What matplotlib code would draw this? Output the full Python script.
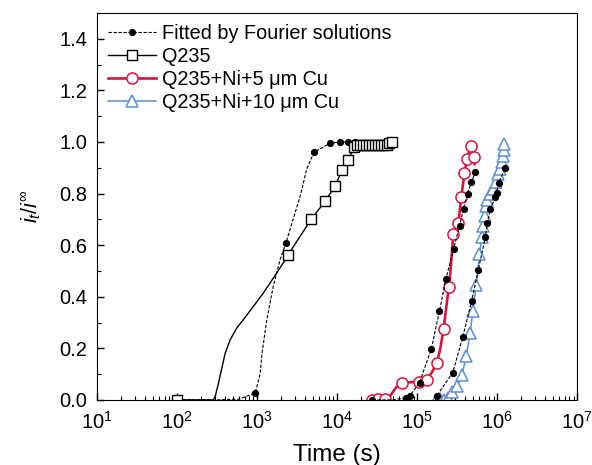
import matplotlib.pyplot as plt
from matplotlib.ticker import LogLocator, MultipleLocator, NullFormatter

plt.rcParams['font.family'] = ['Liberation Sans', 'DejaVu Sans']
plt.rcParams['mathtext.fontset'] = 'custom'
plt.rcParams['mathtext.it'] = 'Liberation Sans:italic'
plt.rcParams['mathtext.rm'] = 'Liberation Sans'

# Q235 measured
q235_t = [100, 200, 282, 299, 329, 362, 398, 460, 557, 673, 900, 1200, 1600, 2130, 2420,
          4730, 7080, 9440, 11500, 13700, 16300, 17800, 19500, 21000, 23000, 25000, 27000,
          29500, 32000, 35000, 38000, 42000, 45000, 49000]
q235_y = [0.0, 0.0, 0.0, 0.013, 0.065, 0.123, 0.18, 0.233, 0.279, 0.311, 0.363, 0.415, 0.473,
          0.532, 0.561,
          0.70, 0.77, 0.83, 0.89, 0.93, 0.98, 0.99, 0.99, 0.99, 0.99, 0.99, 0.99,
          0.99, 0.99, 0.99, 0.99, 0.99, 0.995, 1.0]
q235_marks = [0] + list(range(14, len(q235_t)))

# Q235 Fourier fit
fit1_t = [100, 300, 600, 945, 990, 1090, 1150, 1320, 1590, 1940, 2300, 3450, 4170, 5130,
          8130, 11000, 13800, 16600, 20000, 25000, 30000, 40000]
fit1_y = [0.0, 0.0, 0.003, 0.027, 0.05, 0.10, 0.18, 0.31, 0.44, 0.545, 0.61, 0.79, 0.895, 0.96,
          0.995, 1.0, 1.0, 1.0, 1.0, 1.0, 1.0, 1.0]
fit1_marks = [0, 3, 10, 13, 14, 15, 16, 17]

# Q235+Ni+5 um Cu measured
cu5_t = [27600, 30000, 32800, 36000, 39800, 43000, 47000, 55000, 65500, 80000, 104000,
         132000, 155000, 176000, 195000, 214000, 240000, 251000, 284000, 328000, 355000,
         390000, 418000, 469000, 506000, 520000]
cu5_y = [0.0, 0.0, 0.005, 0.0, 0.005, 0.0, 0.02, 0.05, 0.065, 0.068, 0.071,
         0.078, 0.11, 0.143, 0.2, 0.276, 0.40, 0.437, 0.645, 0.685, 0.785,
         0.878, 0.934, 0.986, 0.94, 0.914]
cu5_marks = [0, 2, 4, 8, 10, 11, 13, 15, 17, 18, 19, 20, 21, 22, 23, 24]

# Q235+Ni+5 um Cu fit
fit5_t = [27600, 50000, 72400, 81300, 107000, 150000, 190000, 229000, 285000, 339000,
          380000, 427000, 473000, 531000]
fit5_y = [0.0, 0.0, 0.009, 0.017, 0.067, 0.197, 0.344, 0.47, 0.584, 0.674,
          0.742, 0.80, 0.843, 0.882]
fit5_marks = [0] + list(range(2, len(fit5_t)))

# Q235+Ni+10 um Cu measured
cu10_t = [172000, 195000, 219000, 240000, 272000, 319000, 362000, 410000, 460000, 497000,
          547000, 601000, 644000, 674000, 708000, 729000, 756000, 818000, 884000, 972000,
          1038000, 1090000, 1145000, 1178000, 1224000, 1224000]
cu10_y = [0.0, 0.005, 0.0, 0.007, 0.032, 0.052, 0.095, 0.169, 0.26, 0.346,
          0.444, 0.564, 0.633, 0.674, 0.713, 0.752, 0.774, 0.798, 0.817, 0.843,
          0.875, 0.897, 0.924, 0.947, 0.97, 0.992]

# Q235+Ni+10 um Cu fit
fit10_t = [168000, 177000, 279000, 370000, 480000, 580000, 710000, 756000, 820000, 950000,
           990000, 1040000, 1260000]
fit10_y = [0.0, 0.017, 0.106, 0.242, 0.383, 0.503, 0.63, 0.687, 0.74, 0.785,
           0.804, 0.84, 0.90]
fit10_marks = list(range(1, len(fit10_t)))

red = '#d7143f'
blue = '#5a8ed0'

fig = plt.figure(figsize=(5.92, 4.65), dpi=100)
ax = fig.add_axes([0.164, 0.140, 0.811, 0.832])

fit_style = dict(color='black', ls=(0, (3, 1.5)), lw=0.8, marker='o', ms=4.2)
ax.plot(fit1_t, fit1_y, markevery=fit1_marks, label='Fitted by Fourier solutions', **fit_style)
ax.plot(q235_t, q235_y, color='black', lw=1.0, marker='s', ms=7, mfc='white', mew=1.0,
        markevery=q235_marks, label='Q235')
ax.plot(cu5_t, cu5_y, color=red, lw=1.9, marker='o', ms=8, mfc='white', mew=1.1,
        markevery=cu5_marks, label='Q235+Ni+5 μm Cu')
ax.plot(cu10_t, cu10_y, color=blue, lw=1.1, marker='^', ms=8.5, mfc='white', mew=1.1,
        label='Q235+Ni+10 μm Cu')
ax.plot(fit5_t, fit5_y, markevery=fit5_marks, **fit_style)
ax.plot(fit10_t, fit10_y, markevery=fit10_marks, **fit_style)

ax.set_xscale('log')
ax.set_xlim(10, 1e7)
ax.set_ylim(0, 1.5)
ax.xaxis.set_major_locator(LogLocator(base=10, numticks=10))
ax.xaxis.set_minor_locator(LogLocator(base=10, subs=range(2, 10), numticks=100))
ax.xaxis.set_minor_formatter(NullFormatter())
ax.yaxis.set_major_locator(MultipleLocator(0.2))
ax.yaxis.set_minor_locator(MultipleLocator(0.1))
ax.yaxis.set_major_formatter(plt.FuncFormatter(lambda v, p: '%.1f' % v))
ax.tick_params(which='both', direction='in', top=False, right=False, labelsize=14.5)
ax.tick_params(which='major', length=5, width=1)
ax.tick_params(which='minor', length=3, width=0.8)
ax.tick_params(axis='x', which='major', pad=8)
ax.tick_params(axis='y', which='major', pad=7)

ax.set_xlabel('Time (s)', fontsize=17.5, labelpad=8)
ax.set_ylabel(r'$i_t/i^{\infty}$', fontsize=15.5, labelpad=12)

ax.legend(loc='upper left', bbox_to_anchor=(0.0, 1.0), frameon=False, fontsize=14.3,
          handlelength=2.4, handletextpad=0.3, labelspacing=0.2, borderaxespad=0.15)

plt.savefig('out.png', dpi=100)
